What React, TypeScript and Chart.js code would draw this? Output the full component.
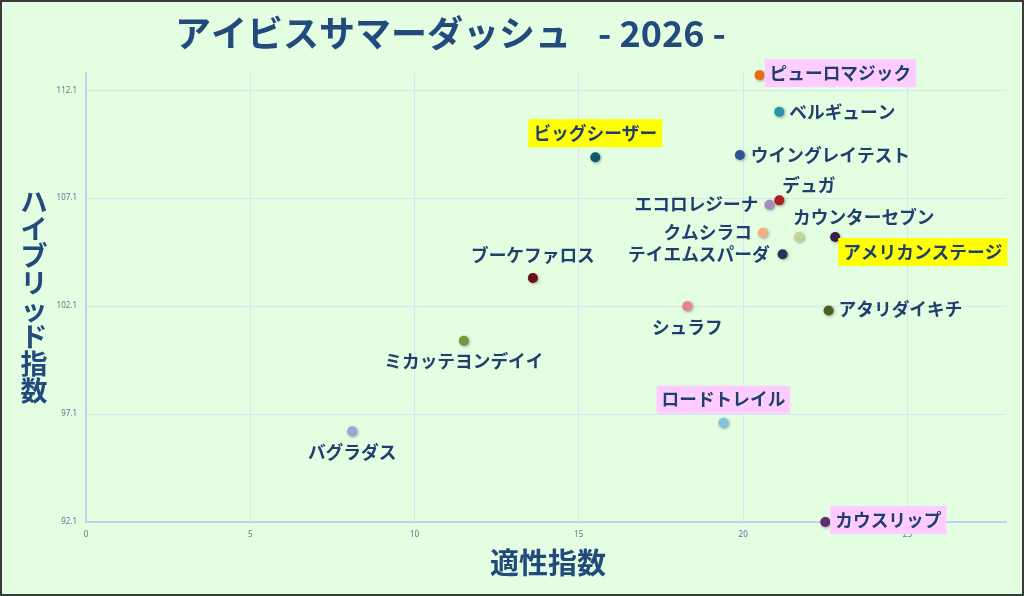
import React, { useEffect, useRef } from "react";
import { Chart, registerables } from "chart.js";

Chart.register(...registerables);

const horses = [
  "ピューロマジック", "ベルギューン", "ビッグシーザー", "ウイングレイテスト", "デュガ",
  "エコロレジーナ", "クムシラコ", "カウンターセブン", "アメリカンステージ", "テイエムスパーダ",
  "ブーケファロス", "シュラフ", "アタリダイキチ", "ミカッテヨンデイイ", "ロードトレイル",
  "バグラダス", "カウスリップ",
];
const aptitude = [20.5, 21.1, 15.5, 19.9, 21.1, 20.8, 20.6, 21.7, 22.8, 21.2, 13.6, 18.3, 22.6, 11.5, 19.4, 8.1, 22.5];
const hybrid = [112.8, 111.1, 109.0, 109.1, 107.0, 106.8, 105.5, 105.3, 105.3, 104.5, 103.4, 102.1, 101.9, 100.5, 96.7, 96.3, 92.1];
const highlight = ["pink", "", "yellow", "", "", "", "", "", "yellow", "", "", "", "", "", "pink", "", "pink"];
const xTicks = [0, 5, 10, 15, 20, 25];
const yTicks = [92.1, 97.1, 102.1, 107.1, 112.1];

const pointColors = [
  "#ec6a12", "#2793a8", "#0f5866", "#2e5596", "#b01e22",
  "#a58cc2", "#f3ad7e", "#c3d595", "#3a1d49", "#1d3857",
  "#6a1014", "#e3868a", "#4c5f22", "#77963a", "#80c4dc",
  "#8fa9d8", "#5c2d70",
];

// label placement: [dx, dy, textAlign]
const labelPlacement: [number, number, CanvasTextAlign][] = [
  [10, -2, "left"], [10, 0, "left"], [0, -24, "center"], [11, 0, "left"], [3, -15, "left"],
  [-11, 0, "right"], [-11, 0, "right"], [-6, -20, "left"], [8, 15, "left"], [-13, 0, "right"],
  [0, -23, "center"], [0, 21, "center"], [10, -1, "left"], [0, 21, "center"], [0, -23, "center"],
  [0, 21, "center"], [10, -2, "left"],
];

const TITLE_MAIN = "アイビスサマーダッシュ";
const TITLE_YEAR = "- 2026 -";
const X_TITLE = "適性指数";
const Y_TITLE = "ハイブリッド指数";
const TEXT_COLOR = "#1f3f6f";
const TITLE_COLOR = "#234a7c";
const JP = "'Noto Sans CJK JP', 'Noto Sans', sans-serif";

const decorPlugin = {
  id: "decor",
  beforeDraw(chart: any) {
    const { ctx, width, height } = chart;
    ctx.save();
    ctx.fillStyle = "#e4fee2";
    ctx.fillRect(0, 0, width, height);
    ctx.restore();
  },
  beforeDatasetsDraw(chart: any) {
    const ctx = chart.ctx;
    ctx.save();
    ctx.shadowColor = "rgba(0,0,0,0.35)";
    ctx.shadowBlur = 3;
    ctx.shadowOffsetX = 1;
    ctx.shadowOffsetY = 1;
  },
  afterDatasetsDraw(chart: any) {
    const ctx = chart.ctx;
    ctx.restore();
    const meta = chart.getDatasetMeta(0);
    ctx.save();
    ctx.font = `bold 17.7px ${JP}`;
    ctx.textBaseline = "middle";
    meta.data.forEach((pt: any, i: number) => {
      const [dx, dy, align] = labelPlacement[i];
      const x = pt.x + dx;
      const y = pt.y + dy;
      const text = horses[i];
      const w = ctx.measureText(text).width;
      let left = x;
      if (align === "center") left = x - w / 2;
      if (align === "right") left = x - w;
      if (highlight[i]) {
        ctx.fillStyle = highlight[i] === "yellow" ? "#ffff00" : "#ffccff";
        ctx.fillRect(left - 5, y - 14, w + 10, 28);
      }
      ctx.fillStyle = TEXT_COLOR;
      ctx.textAlign = align;
      ctx.fillText(text, x, y);
    });
    ctx.restore();
  },
  afterDraw(chart: any) {
    const { ctx, width, height } = chart;
    ctx.save();
    ctx.fillStyle = TITLE_COLOR;
    ctx.textBaseline = "middle";
    ctx.textAlign = "left";
    ctx.font = `bold 36px ${JP}`;
    ctx.fillText(TITLE_MAIN, 175, 33);
    ctx.fillText(TITLE_YEAR, 598, 33);
    ctx.textAlign = "center";
    ctx.font = `bold 29px ${JP}`;
    ctx.fillText(X_TITLE, 548, 563);
    ctx.font = `bold 27px ${JP}`;
    const chars = Array.from(Y_TITLE);
    chars.forEach((c, i) => {
      ctx.fillText(c, 34, 202 + i * 27);
    });
    ctx.strokeStyle = "#3a3a3a";
    ctx.lineWidth = 2;
    ctx.strokeRect(1, 1, width - 2, height - 2);
    ctx.restore();
  },
};

export default function App() {
  const ref = useRef<HTMLCanvasElement | null>(null);
  useEffect(() => {
    if (!ref.current) return;
    const chart = new Chart(ref.current, {
      type: "scatter",
      data: {
        datasets: [
          {
            label: "horses",
            data: aptitude.map((x, i) => ({ x, y: hybrid[i] })),
            pointBackgroundColor: pointColors,
            pointBorderColor: pointColors,
            pointRadius: 5,
            pointBorderWidth: 0,
            clip: false,
          } as any,
        ],
      },
      options: {
        animation: false,
        responsive: false,
        devicePixelRatio: 1,
        layout: { padding: { top: 73, right: 18, left: 0, bottom: 0 } },
        plugins: { legend: { display: false }, tooltip: { enabled: false }, title: { display: false } },
        scales: {
          x: {
            type: "linear",
            min: 0,
            max: 28,
            afterBuildTicks: (s: any) => {
              s.ticks = xTicks.map((v) => ({ value: v }));
            },
            afterFit: (s: any) => {
              s.height = 74;
            },
            grid: { color: "#d8e4f4", lineWidth: 1, drawTicks: false },
            border: { color: "#bcd4ee", width: 2 },
            ticks: { padding: 8, color: "#5f7594", font: { size: 8, family: "'Noto Sans', sans-serif" } },
          },
          y: {
            type: "linear",
            min: 92.1,
            max: 112.9,
            afterBuildTicks: (s: any) => {
              s.ticks = yTicks.map((v) => ({ value: v }));
            },
            afterFit: (s: any) => {
              s.width = 86;
            },
            grid: { color: "#d8e4f4", lineWidth: 1, drawTicks: false },
            border: { color: "#bcd4ee", width: 2 },
            ticks: {
              padding: 9,
              color: "#5f7594",
              font: { size: 8, family: "'Noto Sans', sans-serif" },
              callback: (v: any) => Number(v).toFixed(1),
            },
          },
        },
      },
      plugins: [decorPlugin],
    });
    return () => chart.destroy();
  }, []);
  return (
    <div style={{ position: "fixed", left: 0, top: 0, width: 1024, height: 596 }}>
      <canvas ref={ref} width={1024} height={596} style={{ display: "block" }} />
    </div>
  );
}
